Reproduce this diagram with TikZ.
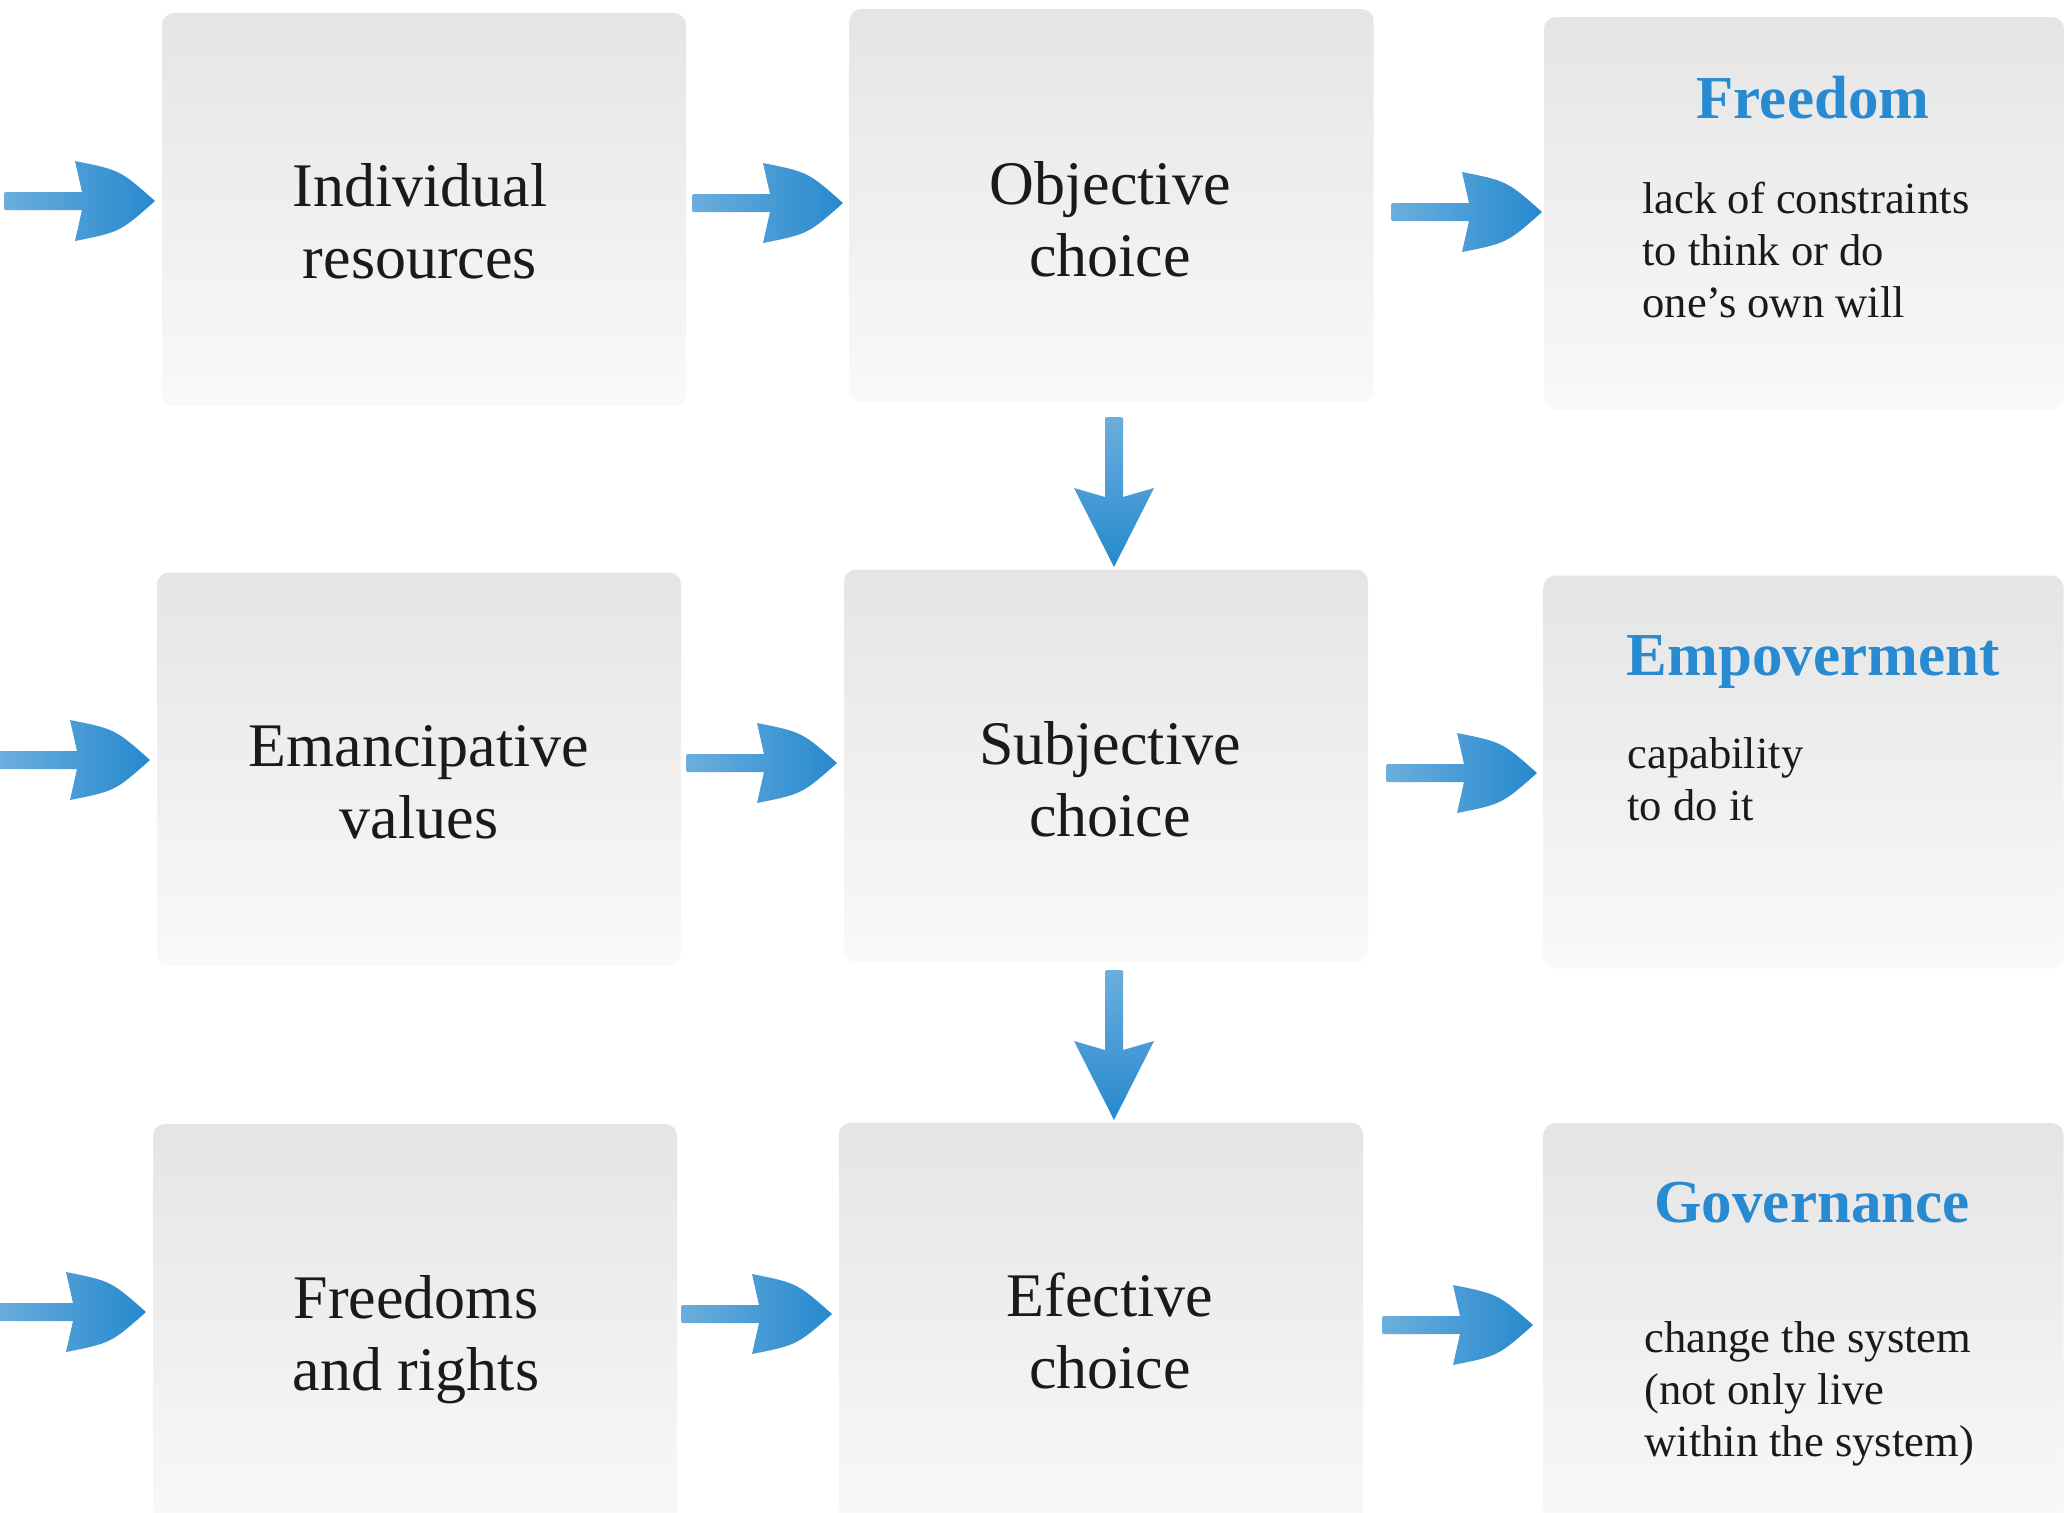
\documentclass[tikz,border=0pt]{standalone}
\usepackage{fontspec}
\setmainfont{Liberation Serif}
\definecolor{boxtop}{RGB}{229,229,229}
\definecolor{boxbot}{RGB}{249,249,249}
\definecolor{arrL}{RGB}{108,174,221}
\definecolor{arrR}{RGB}{38,137,206}
\definecolor{ttl}{RGB}{40,138,208}
\definecolor{txt}{RGB}{26,26,26}
\newcommand{\myharrow}[1]{%
  \shade[left color=arrL, right color=arrR, shift={(#1)}]
    (78,-9) -- (71,-40) .. controls (116,-31) .. (151,0)
    .. controls (116,31) .. (71,40) -- (78,9) -- (1,9) -- (0,7) -- (0,-7) -- (1,-9) -- cycle;}
\newcommand{\myvarrow}[1]{%
  \shade[top color=arrL, bottom color=arrR, shift={(#1)}]
    (-9,80) -- (-40,71) -- (0,150) -- (40,71) -- (9,80) -- (9,1) -- (7,0) -- (-7,0) -- (-9,1) -- cycle;}
\tikzset{
  card/.style={draw=none, inner sep=0pt, rounded corners=6pt,
    top color=boxtop, bottom color=boxbot,
    minimum width=262pt, minimum height=196.5pt},
  cardlow/.style={card, minimum height=208pt},
  cardright/.style={card, minimum width=260pt},
  mainlbl/.style={font=\fontsize{31}{36}\selectfont, text=txt, align=center, anchor=base, inner sep=0pt},
  ttlbl/.style={font=\fontsize{30.5}{36}\selectfont\bfseries, text=ttl, anchor=base, inner sep=0pt},
  bodylbl/.style={font=\fontsize{22.3}{26}\selectfont, text=txt, align=left, anchor=base west, inner sep=0pt}
}
\begin{document}
\begin{tikzpicture}[x=0.5pt,y=-0.5pt]
\useasboundingbox[fill=white] (0,0) rectangle (2065,1512);
% boxes
\node[card] (b1) at (424,209.5) {};
\node[card] (b2) at (1111.5,205.5) {};
\node[cardright] (b3) at (1804,213.5) {};
\node[card] (b4) at (419,769) {};
\node[card] (b5) at (1106,766) {};
\node[cardright] (b6) at (1803.5,772) {};
\node[cardlow] (b7) at (415,1332) {};
\node[cardlow] (b8) at (1101,1330.5) {};
\node[cardlow, minimum width=260pt] (b9) at (1803.5,1331) {};
% labels (base anchor = baseline of the last line)
\node[mainlbl] (t1) at (420,278) {Individual\\resources};
\node[mainlbl] (t2) at (1110,276) {Objective\\choice};
\node[ttlbl] (t3) at (1813,118) {Freedom};
\node[bodylbl] (d3) at (1642,317) {lack of constraints\\to think or do\\one’s own will};
\node[mainlbl] (t4) at (419,838) {Emancipative\\values};
\node[mainlbl] (t5) at (1110,836) {Subjective\\choice};
\node[ttlbl] (t6) at (1813,675) {Empoverment};
\node[bodylbl] (d6) at (1627,820) {capability\\to do it};
\node[mainlbl] (t7) at (416,1390) {Freedoms\\and rights};
\node[mainlbl] (t8) at (1110,1388) {Efective\\choice};
\node[ttlbl] (t9) at (1812,1222) {Governance};
\node[bodylbl] (d9) at (1644,1456) {change the system\\(not only live\\within the system)};
% arrow tails
\coordinate (a0) at (4,201);
\coordinate (a1) at (692,203);
\coordinate (a2) at (1391,212);
\coordinate (c0) at (-1,760);
\coordinate (c1) at (686,763);
\coordinate (c2) at (1386,773);
\coordinate (e0) at (-5,1312);
\coordinate (e1) at (681,1314);
\coordinate (e2) at (1382,1325);
\coordinate (v1) at (1114,417);
\coordinate (v2) at (1114,970);
\myharrow{a0}\myharrow{a1}\myharrow{a2}
\myharrow{c0}\myharrow{c1}\myharrow{c2}
\myharrow{e0}\myharrow{e1}\myharrow{e2}
\myvarrow{v1}\myvarrow{v2}
\end{tikzpicture}
\end{document}
